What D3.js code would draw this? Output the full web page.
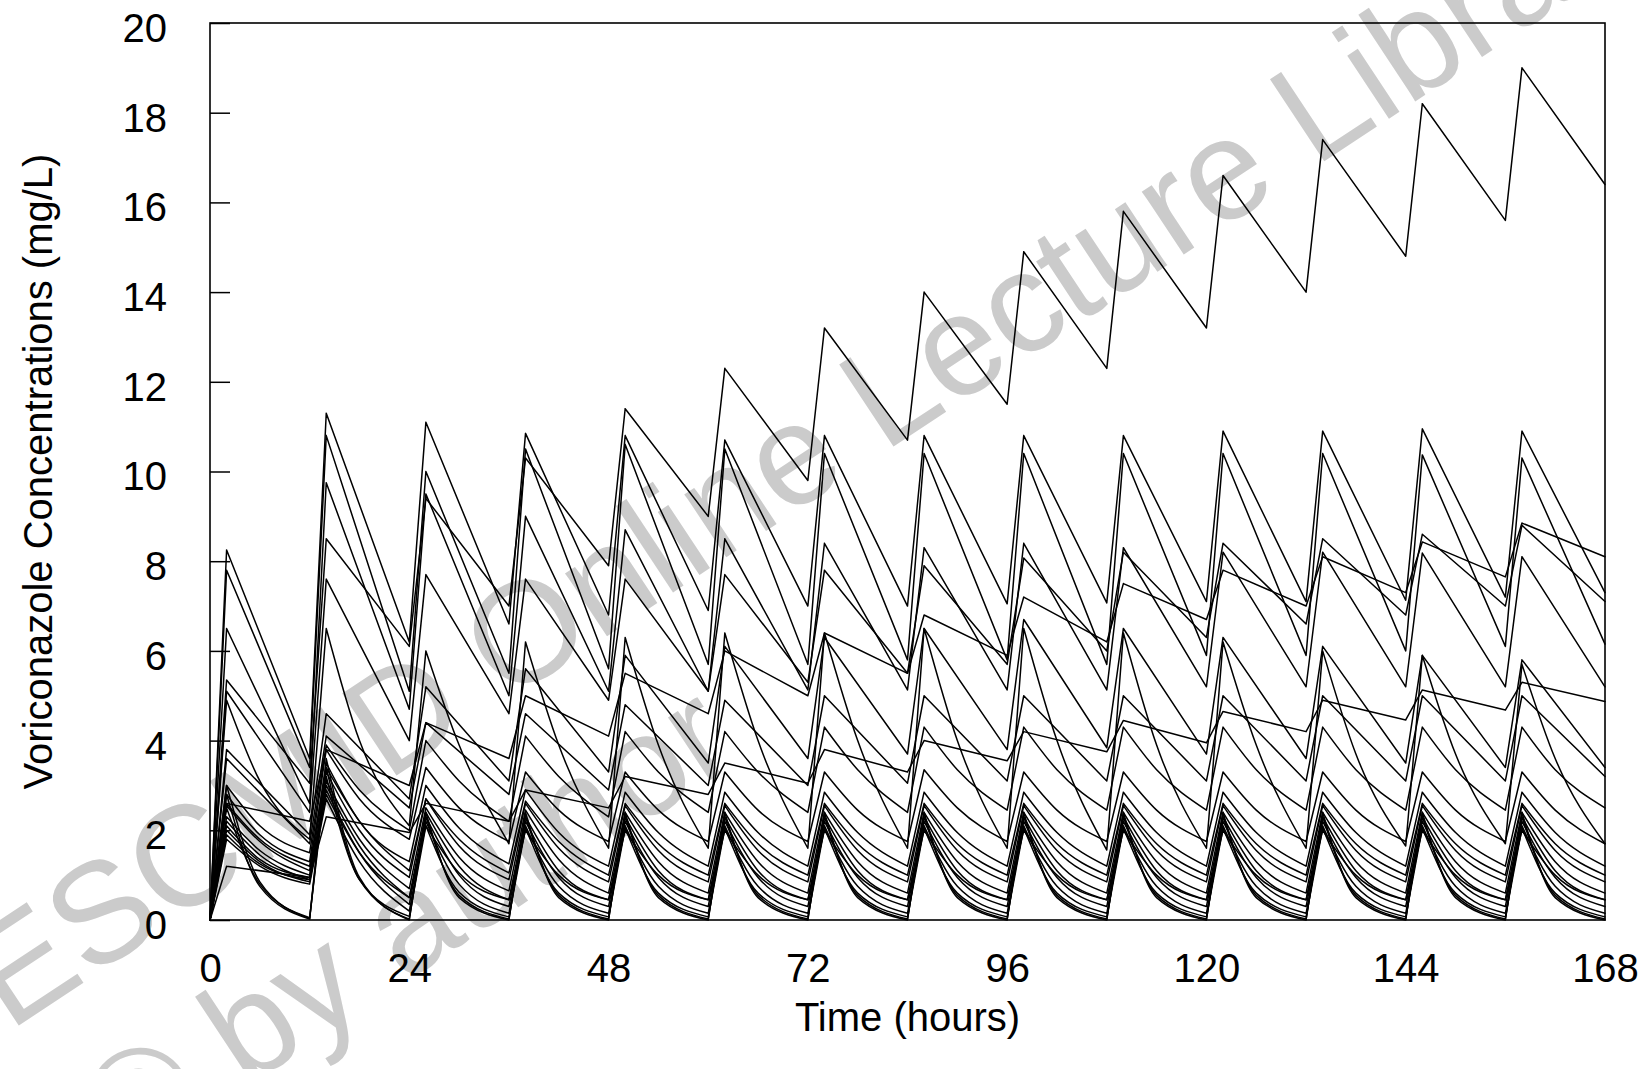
<!DOCTYPE html>
<html>
<head>
<meta charset="utf-8">
<script src="https://cdn.jsdelivr.net/npm/d3@7"></script>
<style>
  body { margin: 0; background: #fff; }
  svg text { font-family: "Liberation Sans", Arial, sans-serif; }
</style>
</head>
<body>
<div id="chart"></div>
<script>
// dosing every 12 h, concentrations read at trough (dose time), peak (+2 h) and, for curved decays, +6 h
const doseTimes = [0, 12, 24, 36, 48, 60, 72, 84, 96, 108, 120, 132, 144, 156];
const endTime = 168;
const peakDelay = 2;
const midDelay = 6;

const xTicks = [0, 24, 48, 72, 96, 120, 144, 168];
const yTicks = [0, 2, 4, 6, 8, 10, 12, 14, 16, 18, 20];

const patientIds = ["P01", "P02", "P03", "P04", "P05", "P06", "P07", "P08", "P09", "P10", "P11",
  "P12", "P13", "P14", "P15", "P16", "P17", "P18", "P19", "P20", "P21", "P22", "P23"];

// peak concentration after each dose (mg/L)
const peakTable = [
  [5.35, 8.5, 9.4, 10.3, 11.4, 12.3, 13.2, 14.0, 14.9, 15.8, 16.6, 17.4, 18.2, 19.0],
  [8.25, 11.3, 11.1, 10.85, 10.8, 10.7, 10.8, 10.8, 10.8, 10.8, 10.9, 10.9, 10.95, 10.9],
  [7.8, 10.8, 10.0, 10.5, 10.6, 10.5, 10.4, 10.4, 10.4, 10.4, 10.4, 10.4, 10.37, 10.3],
  [6.5, 9.75, 9.5, 9.0, 8.7, 8.5, 8.4, 8.3, 8.4, 8.3, 8.2, 8.2, 8.18, 8.1],
  [2.6, 3.8, 4.4, 5.0, 5.5, 6.0, 6.4, 6.8, 7.2, 7.5, 7.8, 8.1, 8.43, 8.85],
  [5.1, 7.6, 7.7, 7.6, 7.6, 7.7, 7.8, 7.9, 8.07, 8.2, 8.4, 8.5, 8.6, 8.8],
  [4.9, 6.5, 6.0, 6.2, 6.3, 6.4, 6.4, 6.5, 6.5, 6.4, 6.2, 6.0, 5.9, 5.7],
  [1.2, 2.3, 2.6, 2.9, 3.2, 3.5, 3.8, 4.0, 4.2, 4.45, 4.65, 4.9, 5.13, 5.3],
  [3.8, 4.6, 5.2, 5.6, 5.9, 6.1, 6.3, 6.5, 6.7, 6.5, 6.3, 6.1, 5.9, 5.8],
  [3.6, 4.1, 4.4, 4.6, 4.8, 4.9, 5.0, 5.0, 5.0, 5.0, 5.0, 5.0, 5.0, 5.0],
  [3.0, 3.9, 4.0, 4.1, 4.2, 4.2, 4.3, 4.3, 4.3, 4.3, 4.3, 4.3, 4.3, 4.3],
  [2.8, 3.8, 3.4, 3.3, 3.3, 3.3, 3.3, 3.35, 3.3, 3.3, 3.3, 3.3, 3.3, 3.3],
  [2.55, 3.5, 3.0, 2.9, 2.85, 2.85, 2.85, 2.85, 2.85, 2.85, 2.85, 2.85, 2.85, 2.85],
  [2.6, 3.4, 2.7, 2.65, 2.6, 2.6, 2.6, 2.6, 2.6, 2.6, 2.6, 2.6, 2.6, 2.6],
  [2.3, 3.3, 2.7, 2.6, 2.55, 2.55, 2.55, 2.55, 2.55, 2.55, 2.55, 2.55, 2.55, 2.55],
  [2.2, 3.1, 2.5, 2.45, 2.4, 2.4, 2.4, 2.4, 2.4, 2.4, 2.4, 2.4, 2.4, 2.4],
  [2.1, 3.0, 2.4, 2.3, 2.3, 2.3, 2.3, 2.3, 2.3, 2.3, 2.3, 2.3, 2.3, 2.3],
  [2.0, 2.9, 2.3, 2.2, 2.2, 2.2, 2.2, 2.2, 2.2, 2.2, 2.2, 2.2, 2.2, 2.2],
  [1.9, 2.8, 2.1, 2.0, 2.0, 2.0, 2.0, 2.0, 2.0, 2.0, 2.0, 2.0, 2.0, 2.0],
  [1.8, 2.7, 2.2, 2.1, 2.1, 2.1, 2.1, 2.1, 2.1, 2.1, 2.1, 2.1, 2.1, 2.1],
  [2.5, 3.2, 2.1, 2.05, 2.05, 2.05, 2.05, 2.05, 2.05, 2.05, 2.05, 2.05, 2.05, 2.05],
  [3.0, 3.4, 2.3, 2.3, 2.3, 2.3, 2.3, 2.3, 2.3, 2.3, 2.3, 2.3, 2.3, 2.3],
  [2.8, 3.6, 2.4, 2.4, 2.4, 2.4, 2.4, 2.4, 2.4, 2.4, 2.4, 2.4, 2.4, 2.4]
];

// trough concentration at each dose time, last value at 168 h
const troughTable = [
  [0, 3.05, 6.1, 7.0, 7.9, 9.0, 9.8, 10.7, 11.5, 12.3, 13.2, 14.0, 14.8, 15.6, 16.4],
  [0, 3.6, 6.2, 6.6, 6.8, 6.9, 7.0, 7.0, 7.05, 7.07, 7.1, 7.1, 7.13, 7.2, 7.3],
  [0, 3.4, 5.1, 5.5, 5.6, 5.7, 5.7, 5.8, 5.8, 5.7, 5.9, 5.9, 6.0, 6.1, 6.15],
  [0, 2.6, 4.7, 5.0, 5.1, 5.1, 5.13, 5.13, 5.13, 5.13, 5.2, 5.2, 5.2, 5.2, 5.2],
  [0, 2.2, 3.0, 3.6, 4.1, 4.6, 5.0, 5.5, 5.9, 6.2, 6.7, 7.0, 7.3, 7.65, 8.1],
  [0, 2.4, 4.0, 4.6, 4.9, 5.1, 5.3, 5.5, 5.7, 6.0, 6.3, 6.6, 6.8, 7.0, 7.1],
  [0, 1.8, 2.1, 1.7, 1.6, 1.6, 1.6, 1.6, 1.6, 1.56, 1.6, 1.6, 1.65, 1.7, 1.7],
  [0, 0.95, 1.95, 2.2, 2.5, 2.8, 3.05, 3.3, 3.55, 3.75, 3.95, 4.2, 4.46, 4.68, 4.87],
  [0, 1.9, 2.7, 3.1, 3.3, 3.5, 3.6, 3.7, 3.8, 3.84, 3.7, 3.6, 3.5, 3.4, 3.4],
  [0, 1.7, 2.5, 2.8, 2.9, 3.0, 3.0, 3.05, 3.1, 3.1, 3.1, 3.1, 3.1, 3.1, 3.2],
  [0, 1.5, 2.0, 2.2, 2.3, 2.4, 2.4, 2.4, 2.45, 2.45, 2.45, 2.45, 2.45, 2.45, 2.5],
  [0, 1.3, 1.8, 1.75, 1.75, 1.75, 1.75, 1.75, 1.75, 1.75, 1.75, 1.75, 1.75, 1.75, 1.7],
  [0, 1.1, 1.3, 1.25, 1.2, 1.2, 1.2, 1.2, 1.2, 1.2, 1.2, 1.2, 1.2, 1.2, 1.2],
  [0, 1.2, 1.1, 1.05, 1.0, 1.0, 1.0, 1.0, 1.0, 1.0, 1.0, 1.0, 1.0, 1.0, 1.0],
  [0, 1.0, 0.95, 0.9, 0.85, 0.85, 0.85, 0.85, 0.85, 0.85, 0.85, 0.85, 0.85, 0.85, 0.85],
  [0, 0.9, 0.7, 0.65, 0.6, 0.6, 0.6, 0.6, 0.6, 0.6, 0.6, 0.6, 0.6, 0.6, 0.6],
  [0, 0.95, 0.5, 0.45, 0.45, 0.45, 0.45, 0.45, 0.45, 0.45, 0.45, 0.45, 0.45, 0.45, 0.45],
  [0, 0.85, 0.35, 0.3, 0.3, 0.3, 0.3, 0.3, 0.3, 0.3, 0.3, 0.3, 0.3, 0.3, 0.3],
  [0, 0.9, 0.5, 0.45, 0.45, 0.45, 0.45, 0.45, 0.45, 0.45, 0.45, 0.45, 0.45, 0.45, 0.45],
  [0, 0.8, 0.2, 0.15, 0.15, 0.15, 0.15, 0.15, 0.15, 0.15, 0.15, 0.15, 0.15, 0.15, 0.15],
  [0, 0.05, 0.08, 0.07, 0.07, 0.07, 0.07, 0.07, 0.07, 0.07, 0.07, 0.07, 0.07, 0.07, 0.07],
  [0, 0.03, 0.02, 0.02, 0.02, 0.02, 0.02, 0.02, 0.02, 0.02, 0.02, 0.02, 0.02, 0.02, 0.02],
  [0, 0.02, 0.0, 0.0, 0.0, 0.0, 0.0, 0.0, 0.0, 0.0, 0.0, 0.0, 0.0, 0.0, 0.0]
];

// concentration 6 h after each dose, only where the decay is visibly curved (null = straight)
const midTable = [
  null, null, null, null, null, null,
  [3.1, 4.0, 3.9, 3.9, 3.9, 4.0, 4.0, 4.0, 4.0, 3.9, 3.9, 3.7, 3.7, 3.6],
  null, null, null,
  [2.1, 2.9, 3.1, 3.2, 3.3, 3.3, 3.35, 3.35, 3.35, 3.35, 3.35, 3.35, 3.35, 3.35],
  [1.9, 2.7, 2.5, 2.45, 2.45, 2.45, 2.45, 2.5, 2.45, 2.45, 2.45, 2.45, 2.45, 2.45],
  [1.75, 2.2, 2.05, 1.95, 1.95, 1.95, 1.95, 1.95, 1.95, 1.95, 1.95, 1.95, 1.95, 1.95],
  [1.8, 2.2, 1.8, 1.75, 1.7, 1.7, 1.7, 1.7, 1.7, 1.7, 1.7, 1.7, 1.7, 1.7],
  [1.55, 2.0, 1.65, 1.6, 1.55, 1.55, 1.55, 1.55, 1.55, 1.55, 1.55, 1.55, 1.55, 1.55],
  [1.45, 1.8, 1.4, 1.35, 1.3, 1.3, 1.3, 1.3, 1.3, 1.3, 1.3, 1.3, 1.3, 1.3],
  [1.35, 1.65, 1.2, 1.1, 1.1, 1.1, 1.1, 1.1, 1.1, 1.1, 1.1, 1.1, 1.1, 1.1],
  [1.3, 1.5, 1.0, 0.95, 0.95, 0.95, 0.95, 0.95, 0.95, 0.95, 0.95, 0.95, 0.95, 0.95],
  [1.25, 1.5, 1.05, 1.0, 1.0, 1.0, 1.0, 1.0, 1.0, 1.0, 1.0, 1.0, 1.0, 1.0],
  [1.2, 1.3, 0.8, 0.75, 0.75, 0.75, 0.75, 0.75, 0.75, 0.75, 0.75, 0.75, 0.75, 0.75],
  [0.8, 0.9, 0.62, 0.6, 0.6, 0.6, 0.6, 0.6, 0.6, 0.6, 0.6, 0.6, 0.6, 0.6],
  [0.85, 0.9, 0.55, 0.55, 0.55, 0.55, 0.55, 0.55, 0.55, 0.55, 0.55, 0.55, 0.55, 0.55],
  [0.75, 0.95, 0.5, 0.5, 0.5, 0.5, 0.5, 0.5, 0.5, 0.5, 0.5, 0.5, 0.5, 0.5]
];

const width = 1646;
const height = 1069;
const margin = { top: 23, right: 41, bottom: 149, left: 210 };
const fontSize = "40px";

const svg = d3.select("#chart")
  .append("svg")
  .attr("width", width)
  .attr("height", height);

// watermark
const wm = svg.append("g")
  .attr("transform", "translate(9,1032) rotate(-33.5)")
  .attr("fill", "#cbcbcb")
  .style("font-size", "143px");
wm.append("text").attr("x", 0).attr("y", 0).text("ESCMID Online Lecture Library");
wm.append("text").attr("x", 20).attr("y", 177).text("\u00A9 by author");

const x = d3.scaleLinear().domain([0, 168]).range([margin.left, width - margin.right]);
const y = d3.scaleLinear().domain([0, 20]).range([height - margin.bottom, margin.top]);

const riseLine = d3.line().x(d => x(d[0])).y(d => y(d[1]));
const decayLine = d3.line().x(d => x(d[0])).y(d => y(d[1])).curve(d3.curveMonotoneX);

const lines = svg.append("g")
  .attr("fill", "none")
  .attr("stroke", "#000")
  .attr("stroke-width", 1.5)
  .attr("stroke-linejoin", "round")
  .attr("stroke-linecap", "round");

patientIds.forEach((id, i) => {
  const pk = peakTable[i];
  const tr = troughTable[i];
  const md = midTable[i];
  let d = "";
  doseTimes.forEach((t0, k) => {
    const next = k + 1 < doseTimes.length ? doseTimes[k + 1] : endTime;
    d += riseLine([[t0, tr[k]], [t0 + peakDelay, pk[k]]]);
    const decay = md
      ? [[t0 + peakDelay, pk[k]], [t0 + midDelay, md[k]], [next, tr[k + 1]]]
      : [[t0 + peakDelay, pk[k]], [next, tr[k + 1]]];
    d += decayLine(decay);
  });
  lines.append("path").attr("class", `pt-${id}`).attr("d", d);
});

// axes
const yAxis = svg.append("g")
  .attr("transform", `translate(${margin.left},0)`)
  .call(d3.axisLeft(y).tickValues(yTicks).tickSizeInner(-20).tickSizeOuter(0).tickPadding(43));
yAxis.select(".domain").remove();
yAxis.selectAll(".tick line").attr("stroke", "#000").attr("stroke-width", 1.5);
yAxis.selectAll(".tick text").attr("dy", "0.46em").attr("fill", "#000").style("font-size", fontSize);

const xAxis = svg.append("g")
  .attr("transform", `translate(0,${height - margin.bottom})`)
  .call(d3.axisBottom(x).tickValues(xTicks).tickSize(0).tickPadding(34));
xAxis.select(".domain").remove();
xAxis.selectAll(".tick text").attr("fill", "#000").style("font-size", fontSize);

// frame
svg.append("rect")
  .attr("x", margin.left)
  .attr("y", margin.top)
  .attr("width", width - margin.left - margin.right)
  .attr("height", height - margin.top - margin.bottom)
  .attr("fill", "none")
  .attr("stroke", "#000")
  .attr("stroke-width", 1.6);

svg.append("text")
  .attr("x", (margin.left + width - margin.right) / 2)
  .attr("y", 1031)
  .attr("text-anchor", "middle")
  .style("font-size", fontSize)
  .text("Time (hours)");

svg.append("text")
  .attr("transform", `translate(52,${(margin.top + height - margin.bottom) / 2}) rotate(-90)`)
  .attr("text-anchor", "middle")
  .style("font-size", fontSize)
  .text("Voriconazole Concentrations (mg/L)");
</script>
</body>
</html>
